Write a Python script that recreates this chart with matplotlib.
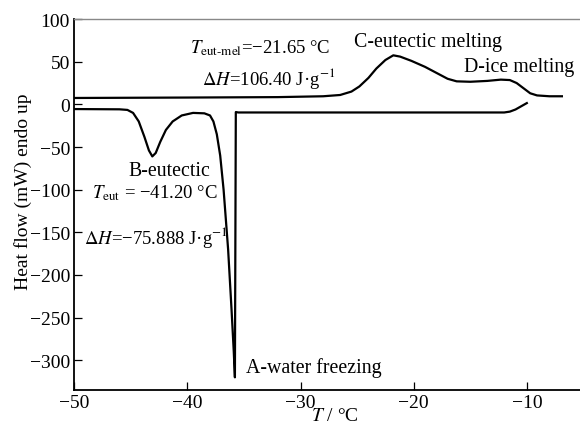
import matplotlib

matplotlib.use("Agg")
import matplotlib.pyplot as plt

# Heating run (upper trace): temperature (°C) and heat flow (mW)
heat_T = [-50.0, -40.0, -32.0, -28.0, -26.5, -25.5, -24.8, -24.0, -23.3, -22.5,
          -21.8, -21.2, -20.2, -19.0, -18.0, -17.0, -16.2, -15.0, -13.5, -12.3,
          -11.5, -10.9, -10.3, -9.7, -9.1, -8.0, -6.9]
heat_HF = [7.5, 8.0, 8.5, 9.5, 11.0, 15.0, 21.0, 31.0, 42.0, 52.0,
           57.5, 56.0, 51.0, 44.0, 37.0, 30.0, 27.0, 26.5, 27.5, 29.0,
           28.5, 25.0, 19.0, 13.0, 10.5, 9.5, 9.5]

# Cooling run (lower trace)
cool_T = [-50.0, -46.0, -45.3, -44.8, -44.3, -43.8, -43.4, -43.1, -42.8, -42.4,
          -41.9, -41.3, -40.5, -39.5, -38.5, -38.0, -37.7, -37.4, -37.1, -36.8,
          -36.4, -36.1, -35.9, -35.8, -35.72, -35.5, -20.0, -12.0, -11.5, -11.0,
          -10.6, -10.0]
cool_HF = [-5.5, -5.8, -6.5, -10.0, -20.0, -38.0, -54.0, -61.0, -57.0, -44.0,
           -30.0, -20.0, -13.0, -10.0, -10.5, -13.0, -20.0, -35.0, -60.0, -100.0,
           -170.0, -240.0, -290.0, -320.0, -9.0, -9.5, -9.5, -9.5, -8.5, -6.0,
           -3.0, 1.5]

x_ticks = [-50, -40, -30, -20, -10]
y_ticks = [100, 50, 0, -50, -100, -150, -200, -250, -300]

plt.rcParams.update({
    "font.family": "Liberation Serif",
    "mathtext.fontset": "stix",
    "font.size": 13,
})

fig = plt.figure(figsize=(5.8, 4.27), dpi=100)
ax = fig.add_axes([0.128, 0.084, 0.872, 0.869])

ax.plot(heat_T, heat_HF, color="black", lw=1.6, solid_joinstyle="round")
ax.plot(cool_T, cool_HF, color="black", lw=1.6, solid_joinstyle="round")

ax.set_xlim(-50, -5.3)
ax.set_ylim(-335, 100)
ax.set_xticks(x_ticks)
ax.set_yticks(y_ticks)
ax.tick_params(direction="in", length=6, width=0.9, labelsize=14, pad=3)

ax.spines["right"].set_visible(False)
ax.spines["top"].set_color("#888888")
ax.spines["top"].set_linewidth(1.0)
ax.spines["left"].set_linewidth(1.3)
ax.spines["bottom"].set_linewidth(1.3)

ax.set_xlabel(r"$T$ / °C", fontsize=14)
ax.set_ylabel("Heat flow (mW) endo up", fontsize=14)
# label positions (x label sits right of centre, tucked under the ticks)
ax.xaxis.set_label_coords(0.515, -0.046)
ax.yaxis.set_label_coords(-0.084, 0.536)

fs_math = 13.5  # annotations with T / ΔH
fs_lab = 14.3   # plain peak labels
ax.text(-39.8, 67, r"$T_{\mathrm{eut\text{-}mel}}$=−21.65 °C", fontsize=fs_math, va="center")
ax.text(-38.7, 31, r"$\Delta H$=106.40 J·g$^{-1}$", fontsize=fs_math, va="center")
ax.text(-18.75, 74, "C-eutectic melting", fontsize=fs_lab, ha="center", va="center")
ax.text(-10.7, 44, "D-ice melting", fontsize=fs_lab, ha="center", va="center")
ax.text(-41.6, -78, "B-eutectic", fontsize=fs_lab, ha="center", va="center")
ax.text(-48.45, -103, r"$T_{\mathrm{eut}}$ = −41.20 °C", fontsize=fs_math, va="center")
ax.text(-49.1, -154.5, r"$\Delta H$=−75.888 J·g$^{-1}$", fontsize=fs_math, va="center")
ax.text(-34.85, -308, "A-water freezing", fontsize=fs_lab, va="center")

fig.savefig("out.png", dpi=100)
